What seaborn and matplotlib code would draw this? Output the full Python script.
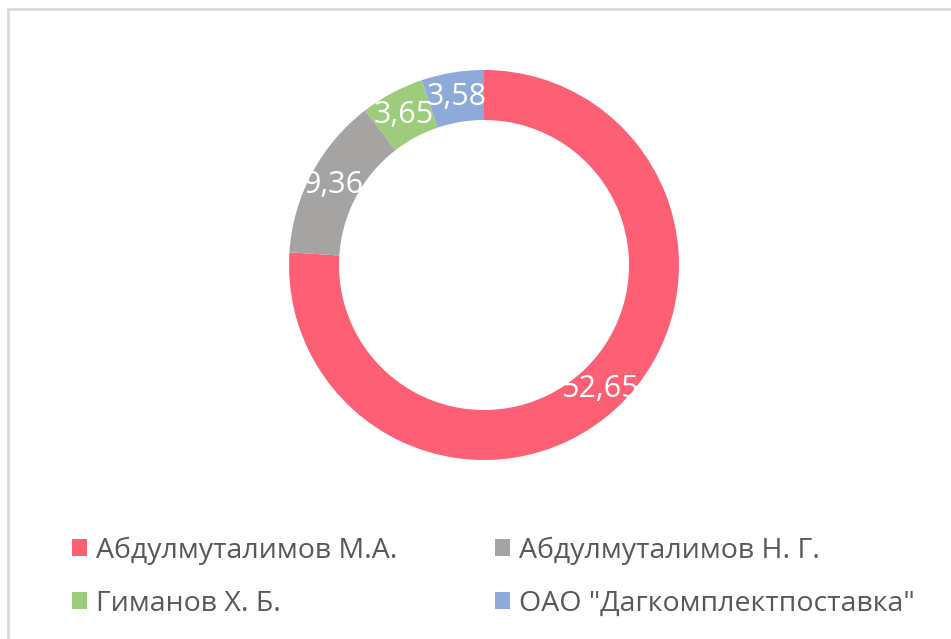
import matplotlib
matplotlib.use("Agg")
import matplotlib.pyplot as plt
from matplotlib.patches import Rectangle
import numpy as np
import seaborn as sns

names = ["Абдулмуталимов М.А.", "Абдулмуталимов Н. Г.", "Гиманов Х. Б.", 'ОАО "Дагкомплектпоставка"']
values = [52.65, 9.36, 3.65, 3.58]
value_labels = ["52,65", "9,36", "3,65", "3,58"]
colors = ["#fd5f75", "#a6a3a3", "#9ccc7c", "#8eaadb"]

sns.set_theme(style="white")
plt.rcParams["font.family"] = ["Open Sans", "DejaVu Sans"]

W, H = 951, 639
fig = plt.figure(figsize=(W / 100, H / 100), dpi=100)
fig.patch.set_facecolor("white")
ax = fig.add_axes([0, 0, 1, 1])

cx, cy = 484, H - 265
R, width = 195, 50
wedges, _ = ax.pie(values, colors=colors, startangle=90, counterclock=False,
                   radius=R, center=(cx, cy), wedgeprops=dict(width=width, linewidth=0))
ax.set_xlim(0, W)
ax.set_ylim(0, H)
ax.set_aspect("equal")
ax.axis("off")

rl = R - width / 2
for w, lab in zip(wedges, value_labels):
    th = np.deg2rad((w.theta1 + w.theta2) / 2)
    ax.text(cx + rl * np.cos(th), cy + rl * np.sin(th), lab, color="white",
            fontsize=22, ha="center", va="center")

fs = 20.5
common = dict(loc="center left", frameon=False, fontsize=fs, labelcolor="#595959",
              handlelength=0.52, handleheight=0.52, handletextpad=0.33,
              labelspacing=0.88, borderpad=0, borderaxespad=0)
fig.legend([wedges[0], wedges[2]], [names[0], names[2]],
           bbox_to_anchor=(72 / W, 1 - 577 / H), **common)
fig.legend([wedges[1], wedges[3]], [names[1], names[3]],
           bbox_to_anchor=(495 / W, 1 - 577 / H), **common)

fig.patches.append(Rectangle((8 / W, -0.1), 1.2, 1.1 - 9 / H, transform=fig.transFigure,
                             fill=False, edgecolor="#d9d9d9", linewidth=2))

fig.savefig("out.png", dpi=100, facecolor="white")
